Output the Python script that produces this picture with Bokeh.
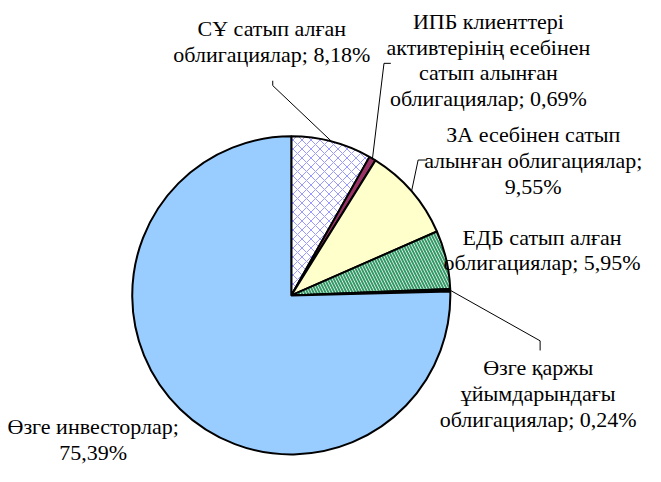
import numpy as np
from bokeh.plotting import figure
from bokeh.models import Range1d, ColumnDataSource, Label
from bokeh.embed import file_html
from bokeh.resources import INLINE

# ---- data ----
categories = [
    "СҰ сатып алған облигациялар",
    "ИПБ клиенттері активтерінің есебінен сатып алынған облигациялар",
    "ЗА есебінен сатып алынған облигациялар",
    "ЕДБ сатып алған облигациялар",
    "Өзге қаржы ұйымдарындағы облигациялар",
    "Өзге инвесторлар",
]
shares = [8.18, 0.69, 9.55, 5.95, 0.24, 75.39]
label_lines = [
    ["СҰ сатып алған", "облигациялар; 8,18%"],
    ["ИПБ клиенттері", "активтерінің есебінен", "сатып алынған", "облигациялар; 0,69%"],
    ["ЗА есебінен сатып", "алынған облигациялар;", "9,55%"],
    ["ЕДБ сатып алған", "облигациялар; 5,95%"],
    ["Өзге қаржы", "ұйымдарындағы", "облигациялар; 0,24%"],
    ["Өзге инвесторлар;", "75,39%"],
]

# ---- styles / layout ----
fills = ["white", "#993366", "#FFFFCC", "white", "black", "#99CCFF"]
hatches = ["diagonal_cross", " ", " ", "left_diagonal_line", " ", " "]
hatch_colors = ["#9999FF", "black", "black", "#339966", "black", "black"]
hatch_weights = [1, 1, 1, 2, 1, 1]
hatch_scales = [9, 12, 12, 6, 12, 12]

W, H = 645, 466          # figure size in screen px
REF_W, REF_H = 661, 482  # layout coordinates (reference picture px)
sx, sy = W / REF_W, H / REF_H
cx, cy_px, R = 298, 305, 163
cy = REF_H - cy_px
Ry = R * sx / sy          # vertical radius in data units so the pie stays round

FONT_PX = 22
DESC = 0.216 * FONT_PX    # descent below baseline (text drawn with bottom baseline)
label_anchor = [(278, 37), (500, 30), (546, 147), (555, 253), (551, 388), (95, 449)]
LINE_H = 26.5
leader_outer = {
    0: [(279, 83), (279, 88)],
    1: [(400, 65), (393, 65)],
    2: [(437, 165), (428, 165)],
    4: [(553, 362), (553, 352)],
}

vals = np.array(shares, dtype=float)
frac = vals / vals.sum()
cum_end = np.cumsum(frac)
cum_start = cum_end - frac
start_ang = np.pi / 2 - cum_start * 2 * np.pi
end_ang = np.pi / 2 - cum_end * 2 * np.pi
mid_theta = (cum_start + cum_end) / 2 * 2 * np.pi  # clockwise from top

p = figure(width=W, height=H, x_range=Range1d(0, REF_W), y_range=Range1d(0, REF_H),
           output_backend="svg", toolbar_location=None, min_border=0,
           x_axis_type=None, y_axis_type=None)
p.grid.visible = False
p.outline_line_color = None
p.background_fill_color = "white"
p.border_fill_color = "white"

src = ColumnDataSource(dict(
    x=[cx] * len(vals), y=[cy] * len(vals),
    start=start_ang, end=end_ang,
    fill=fills, hatch=hatches, hcol=hatch_colors, hw=hatch_weights, hs=hatch_scales,
    cat=categories,
))
p.wedge(x="x", y="y", radius=R, start_angle="start", end_angle="end", direction="clock",
        fill_color="fill", hatch_pattern="hatch", hatch_color="hcol", hatch_weight="hw",
        hatch_scale="hs", line_color="black", line_width=2, source=src)

# leader lines
for i, pts in leader_outer.items():
    ex = cx + R * np.sin(mid_theta[i])
    ey = cy + Ry * np.cos(mid_theta[i])
    xs = [pt[0] for pt in pts] + [ex]
    ys = [REF_H - pt[1] for pt in pts] + [ey]
    p.line(xs, ys, line_color="black", line_width=1)

# labels
for (ax, ay), lines in zip(label_anchor, label_lines):
    for k, s in enumerate(lines):
        base_px = (ay + k * LINE_H) * sy + DESC   # screen px of text bottom
        p.add_layout(Label(x=ax, y=REF_H - base_px / sy, text=s,
                           text_align="center", text_baseline="bottom",
                           text_font="Liberation Serif", text_font_size=f"{FONT_PX}px",
                           text_color="black"))

open("out.html", "w").write(file_html(p, INLINE))
